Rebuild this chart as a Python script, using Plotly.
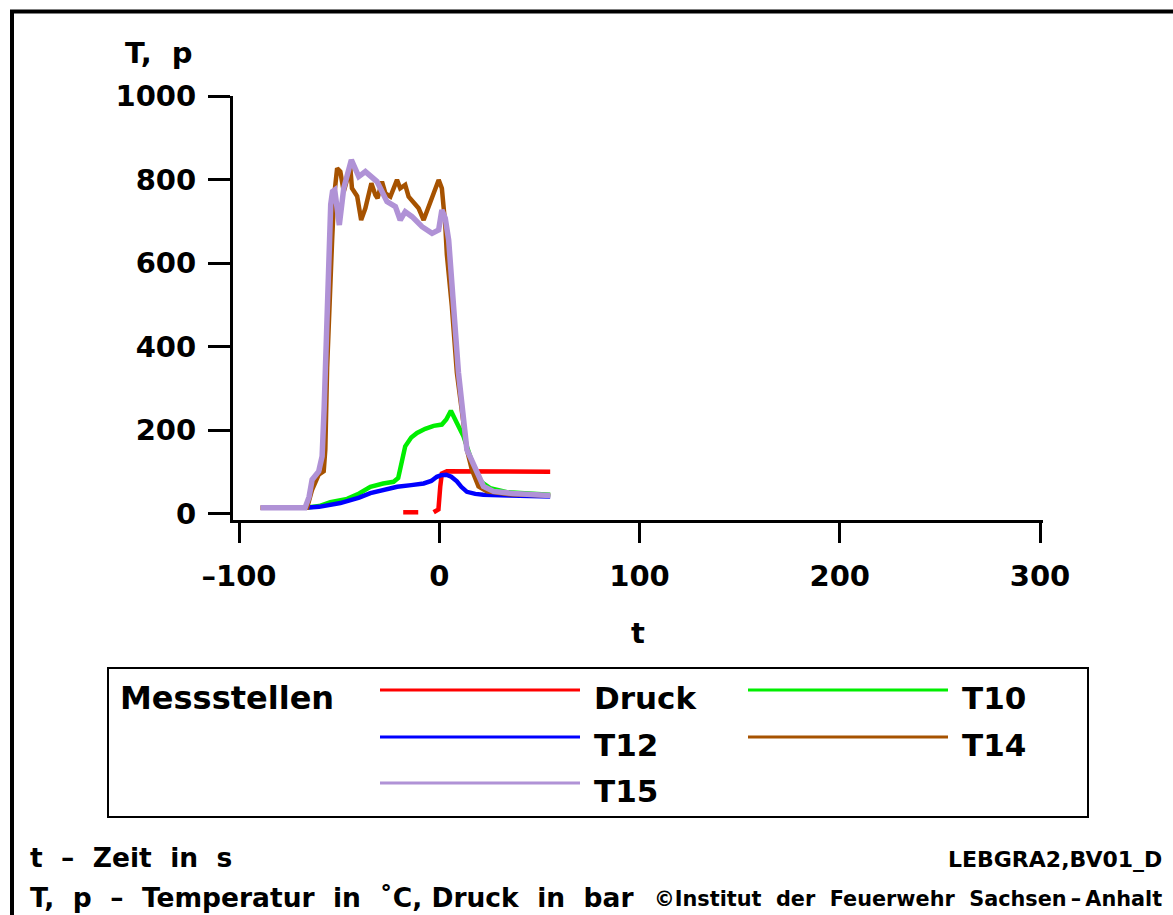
import plotly.graph_objects as go

# ---------------- data ----------------
t_druck = [-18, -10.5, None, -2.8, -0.4, 0.5, 1.3, 3.8, 55.4]
v_druck = [3, 3, None, 3, 10, 65, 96, 101, 100]

t_t10 = [-67, -60, -54.4, -46, -40, -34.4, -28, -22.8, -20.5, -19.5, -17, -14, -11.1, -7,
         -2.8, 1.3, 3.5, 5.8, 7, 8.8, 12.1, 15.5, 18.8, 22, 25.4, 33.8, 45, 55.4]
v_t10 = [14, 18, 27, 35, 48, 64, 72, 76, 85, 105, 161, 182, 193, 203,
         210, 213, 225, 246, 232, 217, 185, 137, 89, 72, 61, 51, 47, 45]

t_t12 = [-67, -60, -49.4, -40, -34.4, -28, -21, -14, -7.8, -4, -1.2, 1, 3.5, 6, 8.8,
         11, 13.8, 18, 22, 35, 55.4]
v_t12 = [14, 16, 25, 38, 49, 56, 64, 68, 72, 78, 88, 92, 93, 88, 77,
         64, 52, 47, 45, 43, 41]

t_t14 = [-89.3, -66, -63.5, -60.2, -57.7, -56.9, -56, -54.5, -53.5, -52.5, -51, -49.4,
         -47.7, -44.4, -43.6, -41, -39, -36.9, -33.9, -31.9, -30.8, -28.6, -26.9, -24.4,
         -21.1, -19.5, -17, -15.3, -12.8, -10.3, -7.8, -4.5, -0.3, 1.3, 3, 3.8, 6.3, 8.8,
         13.8, 16.3, 19.6, 23.8, 35, 55.4]
v_t14 = [14, 14, 57, 93, 101, 153, 350, 560, 655, 760, 827, 819,
         771, 827, 779, 760, 703, 731, 791, 763, 755, 795, 767, 759,
         799, 779, 787, 759, 743, 731, 703, 747, 799, 779, 691, 620, 496, 337,
         153, 105, 65, 53, 46, 43]

t_t15 = [-89.3, -67, -65, -63.5, -60.2, -58.5, -57.5, -56.5, -55.2, -54.2, -53.3, -52.2,
         -49.9, -47.7, -43.9, -40.2, -36.9, -31.1, -26.1, -21.9, -19.5, -17, -13.6, -8.6,
         -3.6, -0.3, 1.3, 3, 4.7, 7.1, 9.6, 13.8, 18, 22.1, 27.1, 37, 55.4]
v_t15 = [14, 14, 40, 81, 101, 137, 250, 430, 650, 740, 771, 775,
         691, 779, 847, 807, 819, 795, 747, 735, 703, 723, 711, 687,
         671, 679, 727, 707, 655, 496, 337, 153, 105, 65, 53, 48, 43]

series_names = ["Druck", "T10", "T12", "T14", "T15"]
x_ticks = [-100, 0, 100, 200, 300]
x_tick_labels = ["\u2013100", "0", "100", "200", "300"]
y_ticks = [0, 200, 400, 600, 800, 1000]

# ---------------- style ----------------
colors = {"Druck": "#ff0000", "T10": "#00ee00", "T12": "#0000ff",
          "T14": "#a65200", "T15": "#b092d6"}
widths = {"Druck": 4.5, "T10": 4.5, "T12": 4.5, "T14": 4.5, "T15": 5.5}
FONT = "DejaVu Sans"

W, H = 1173, 915
L, R, T, B = 233, 1043, 96, 520   # plot area in pixels


def xp(px):
    return (px - L) / (R - L)


def yp(py):
    return (B - py) / (B - T)


data = {"Druck": (t_druck, v_druck), "T10": (t_t10, v_t10), "T12": (t_t12, v_t12),
        "T14": (t_t14, v_t14), "T15": (t_t15, v_t15)}

fig = go.Figure()
for name in ["Druck", "T10", "T12", "T14", "T15"]:
    tx, vy = data[name]
    fig.add_trace(go.Scatter(x=tx, y=vy, mode="lines", name=name,
                             line=dict(color=colors[name], width=widths[name]),
                             connectgaps=False, showlegend=False, hoverinfo="skip"))

fig.update_layout(
    width=W, height=H,
    margin=dict(l=L, r=W - R, t=T, b=H - B, pad=0),
    plot_bgcolor="white", paper_bgcolor="white",
    font=dict(family=FONT, size=29, color="black", weight="bold"),
    xaxis=dict(range=[-103, 301.5], tickvals=x_ticks, ticktext=x_tick_labels,
               showline=True, linecolor="black", linewidth=3,
               ticks="outside", ticklen=20, tickwidth=3, tickcolor="black",
               showgrid=False, zeroline=False,
               tickfont=dict(family=FONT, size=29, weight="bold"),
               ticklabelstandoff=8),
    yaxis=dict(range=[-15.5, 1000], tickvals=y_ticks,
               showline=True, linecolor="black", linewidth=3,
               ticks="outside", ticklen=22, tickwidth=3, tickcolor="black",
               showgrid=False, zeroline=False,
               tickfont=dict(family=FONT, size=29, weight="bold"),
               ticklabelstandoff=6),
)

shapes = []
# outer frame (left & top)
shapes.append(dict(type="line", xref="paper", yref="paper",
                   x0=xp(12), x1=xp(12), y0=yp(11.5), y1=yp(930),
                   line=dict(color="black", width=4)))
shapes.append(dict(type="line", xref="paper", yref="paper",
                   x0=xp(10), x1=xp(1180), y0=yp(11.5), y1=yp(11.5),
                   line=dict(color="black", width=4)))
# legend box
shapes.append(dict(type="rect", xref="paper", yref="paper",
                   x0=xp(108), x1=xp(1088), y0=yp(668), y1=yp(817),
                   line=dict(color="black", width=2), fillcolor="rgba(0,0,0,0)"))

legend_pos = {"Druck": (380, 690), "T10": (748, 690), "T12": (380, 737),
              "T14": (748, 737), "T15": (380, 783)}
annotations = []
for name in series_names:
    lx, ly = legend_pos[name]
    shapes.append(dict(type="line", xref="paper", yref="paper",
                       x0=xp(lx), x1=xp(lx + 200), y0=yp(ly), y1=yp(ly),
                       line=dict(color=colors[name], width=3)))
    annotations.append(dict(text=name, xref="paper", yref="paper",
                            x=xp(lx + 212), y=yp(ly + 8), xanchor="left", yanchor="middle",
                            showarrow=False, font=dict(family=FONT, size=31, weight="bold")))


def txt(s, px, py, size, anchor="left"):
    annotations.append(dict(text=s, xref="paper", yref="paper", x=xp(px), y=yp(py),
                            xanchor=anchor, yanchor="middle", showarrow=False,
                            font=dict(family=FONT, size=size, weight="bold")))


NB = "\u00a0"
TH = "\u2009"
txt("Messstellen", 118, 698, 32)
txt("T," + NB * 2 + "p", 123, 53, 29)
txt("t", 638, 633, 29, anchor="center")
txt("t" + NB * 2 + "\u2013" + NB * 2 + "Zeit" + NB * 2 + "in" + NB * 2 + "s", 28, 857, 26.5)
txt("T," + NB * 2 + "p" + NB * 2 + "\u2013" + NB * 2 + "Temperatur" + NB * 2 + "in" + NB * 2 +
    "\u02daC," + NB + "Druck" + NB * 2 + "in" + NB * 2 + "bar", 28, 897, 26.5)
txt("LEBGRA2,BV01_D", 1164, 859, 22, anchor="right")
txt("\u00a9Institut" + NB * 2 + "der" + NB * 2 + "Feuerwehr" + NB * 2 + "Sachsen" + TH +
    "\u2013" + TH + "Anhalt", 1164, 899, 20.8, anchor="right")

fig.update_layout(shapes=shapes, annotations=annotations)
fig.write_html("out.html", config={"displayModeBar": False},
               post_script="document.body.style.margin='0';")
